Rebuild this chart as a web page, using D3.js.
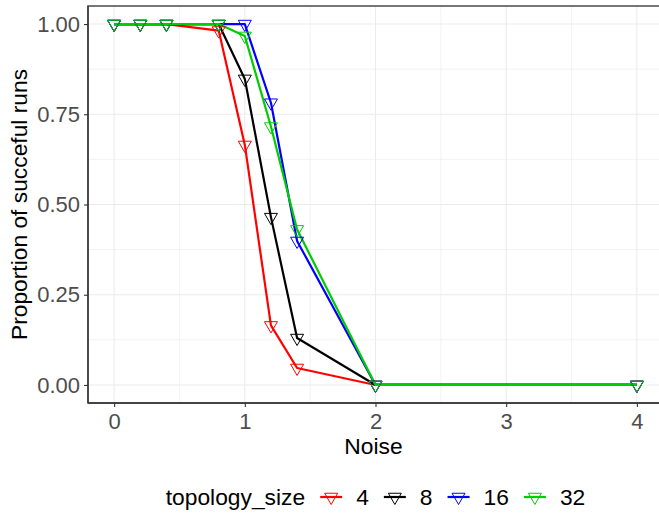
<!DOCTYPE html>
<html>
<head>
<meta charset="utf-8">
<script src="https://cdn.jsdelivr.net/npm/d3@7"></script>
<style>
  html, body { margin: 0; padding: 0; background: #fff; }
  svg { display: block; font-family: "Liberation Sans", Arial, Helvetica, sans-serif; }
</style>
</head>
<body>
<svg id="chart" width="659" height="514"></svg>
<script>
// ---- data ----
const noise = [0, 0.2, 0.4, 0.8, 1.0, 1.2, 1.4, 2, 4];
const size4  = [1, 1, 1, 0.982, 0.665, 0.165, 0.047, 0, 0];
const size8  = [1, 1, 1, 1, 0.848, 0.465, 0.130, 0, 0];
const size16 = [1, 1, 1, 1, 1, 0.782, 0.399, 0, 0];
const size32 = [1, 1, 1, 1, 0.967, 0.716, 0.431, 0, 0];
const topologySizes = ["4", "8", "16", "32"];
const seriesColors = ["#FF0000", "#000000", "#0000FF", "#00CD00"];
const xTicks = [0, 1, 2, 3, 4];
const yTicks = [0, 0.25, 0.5, 0.75, 1];
const yTickLabels = ["0.00", "0.25", "0.50", "0.75", "1.00"];
const xTitle = "Noise";
const yTitle = "Proportion of succeful runs";
const legendTitle = "topology_size";

const series = [size4, size8, size16, size32].map((vals, i) => ({
  name: topologySizes[i],
  color: seriesColors[i],
  points: noise.map((x, j) => ({ x, y: vals[j] }))
}));

// ---- layout ----
const svg = d3.select("#chart");
const panel = { left: 88, right: 663, top: 6, bottom: 403 };
const x = d3.scaleLinear().domain([-0.2, 4.2]).range([panel.left, panel.right]);
const y = d3.scaleLinear().domain([-0.05, 1.05]).range([panel.bottom, panel.top]);
const titleSize = 22.8;
const tickSize = 22;

svg.append("rect")
  .attr("x", panel.left).attr("y", panel.top)
  .attr("width", panel.right - panel.left).attr("height", panel.bottom - panel.top)
  .attr("fill", "#fff");

// minor grid
const xMinor = [0.5, 1.5, 2.5, 3.5];
const yMinor = [0.125, 0.375, 0.625, 0.875];
const grid = svg.append("g");
grid.selectAll(".xminor").data(xMinor).join("line")
  .attr("x1", d => x(d)).attr("x2", d => x(d))
  .attr("y1", panel.top).attr("y2", panel.bottom)
  .attr("stroke", "#EBEBEB").attr("stroke-width", 0.6);
grid.selectAll(".yminor").data(yMinor).join("line")
  .attr("y1", d => y(d)).attr("y2", d => y(d))
  .attr("x1", panel.left).attr("x2", panel.right)
  .attr("stroke", "#EBEBEB").attr("stroke-width", 0.6);
// major grid
grid.selectAll(".xmajor").data(xTicks).join("line")
  .attr("x1", d => x(d)).attr("x2", d => x(d))
  .attr("y1", panel.top).attr("y2", panel.bottom)
  .attr("stroke", "#EBEBEB").attr("stroke-width", 1.1);
grid.selectAll(".ymajor").data(yTicks).join("line")
  .attr("y1", d => y(d)).attr("y2", d => y(d))
  .attr("x1", panel.left).attr("x2", panel.right)
  .attr("stroke", "#EBEBEB").attr("stroke-width", 1.1);

// lines
const line = d3.line().x(d => x(d.x)).y(d => y(d.y));
svg.append("g").selectAll("path").data(series).join("path")
  .attr("d", d => line(d.points))
  .attr("fill", "none")
  .attr("stroke", d => d.color)
  .attr("stroke-width", 2.2)
  .attr("stroke-linejoin", "round");

// down triangle (centroid-centred)
const tri = (cx, cy, s) => {
  const h = s * Math.sqrt(3) / 2;
  return `M${cx - s / 2},${cy - h / 3}L${cx + s / 2},${cy - h / 3}L${cx},${cy + 2 * h / 3}Z`;
};

// points
const pts = svg.append("g");
series.forEach(s => {
  pts.append("g").selectAll("path").data(s.points).join("path")
    .attr("d", d => tri(x(d.x), y(d.y), 13))
    .attr("fill", "none")
    .attr("stroke", s.color)
    .attr("stroke-width", 1);
});

// panel border
svg.append("rect")
  .attr("x", panel.left).attr("y", panel.top)
  .attr("width", panel.right - panel.left).attr("height", panel.bottom - panel.top)
  .attr("fill", "none").attr("stroke", "#555555").attr("stroke-width", 1.6);
svg.append("line").attr("x1", panel.left).attr("x2", panel.left)
  .attr("y1", panel.top).attr("y2", panel.bottom).attr("stroke", "#333").attr("stroke-width", 1.3);
svg.append("line").attr("x1", panel.left).attr("x2", panel.right)
  .attr("y1", panel.bottom).attr("y2", panel.bottom).attr("stroke", "#333").attr("stroke-width", 1.3);

// axes
const xAxis = d3.axisBottom(x).tickValues(xTicks).tickSize(4).tickPadding(6).tickFormat(d3.format("d"));
const gx = svg.append("g").attr("transform", `translate(0,${panel.bottom})`).call(xAxis);
gx.select(".domain").remove();
gx.selectAll(".tick line").attr("stroke", "#333").attr("stroke-width", 1.1);
gx.selectAll(".tick text").attr("fill", "#4D4D4D").attr("font-size", tickSize)
  .attr("font-family", "Liberation Sans, Arial, sans-serif");

const yAxis = d3.axisLeft(y).tickValues(yTicks).tickSize(4).tickPadding(4)
  .tickFormat((d, i) => yTickLabels[i]);
const gy = svg.append("g").attr("transform", `translate(${panel.left},0)`).call(yAxis);
gy.select(".domain").remove();
gy.selectAll(".tick line").attr("stroke", "#333").attr("stroke-width", 1.1);
gy.selectAll(".tick text").attr("fill", "#4D4D4D").attr("font-size", tickSize)
  .attr("font-family", "Liberation Sans, Arial, sans-serif");

// axis titles
const cxPanel = (panel.left + panel.right) / 2;
svg.append("text").attr("x", cxPanel - 2).attr("y", 454)
  .attr("text-anchor", "middle").attr("font-size", titleSize).attr("fill", "#000").text(xTitle);
svg.append("text")
  .attr("transform", `translate(27,${(panel.top + panel.bottom) / 2}) rotate(-90)`)
  .attr("text-anchor", "middle").attr("font-size", titleSize).attr("fill", "#000").text(yTitle);

// legend
const lg = svg.append("g");
const legendY = 497;
const titleText = lg.append("text").attr("x", 0).attr("y", legendY + 8)
  .attr("font-size", titleSize).attr("fill", "#000").text(legendTitle);
let cursor = titleText.node().getComputedTextLength() + 15;
series.forEach(s => {
  const k = lg.append("g");
  k.append("line").attr("x1", cursor).attr("x2", cursor + 22)
    .attr("y1", legendY).attr("y2", legendY)
    .attr("stroke", s.color).attr("stroke-width", 2.2);
  k.append("path").attr("d", tri(cursor + 11, legendY, 13))
    .attr("fill", "none").attr("stroke", s.color).attr("stroke-width", 1);
  cursor += 22 + 14;
  const t = lg.append("text").attr("x", cursor).attr("y", legendY + 8)
    .attr("font-size", titleSize).attr("fill", "#000").text(s.name);
  cursor += t.node().getComputedTextLength() + 15;
});
const legendWidth = cursor - 15;
lg.attr("transform", `translate(${cxPanel - legendWidth / 2},0)`);
</script>
</body>
</html>
